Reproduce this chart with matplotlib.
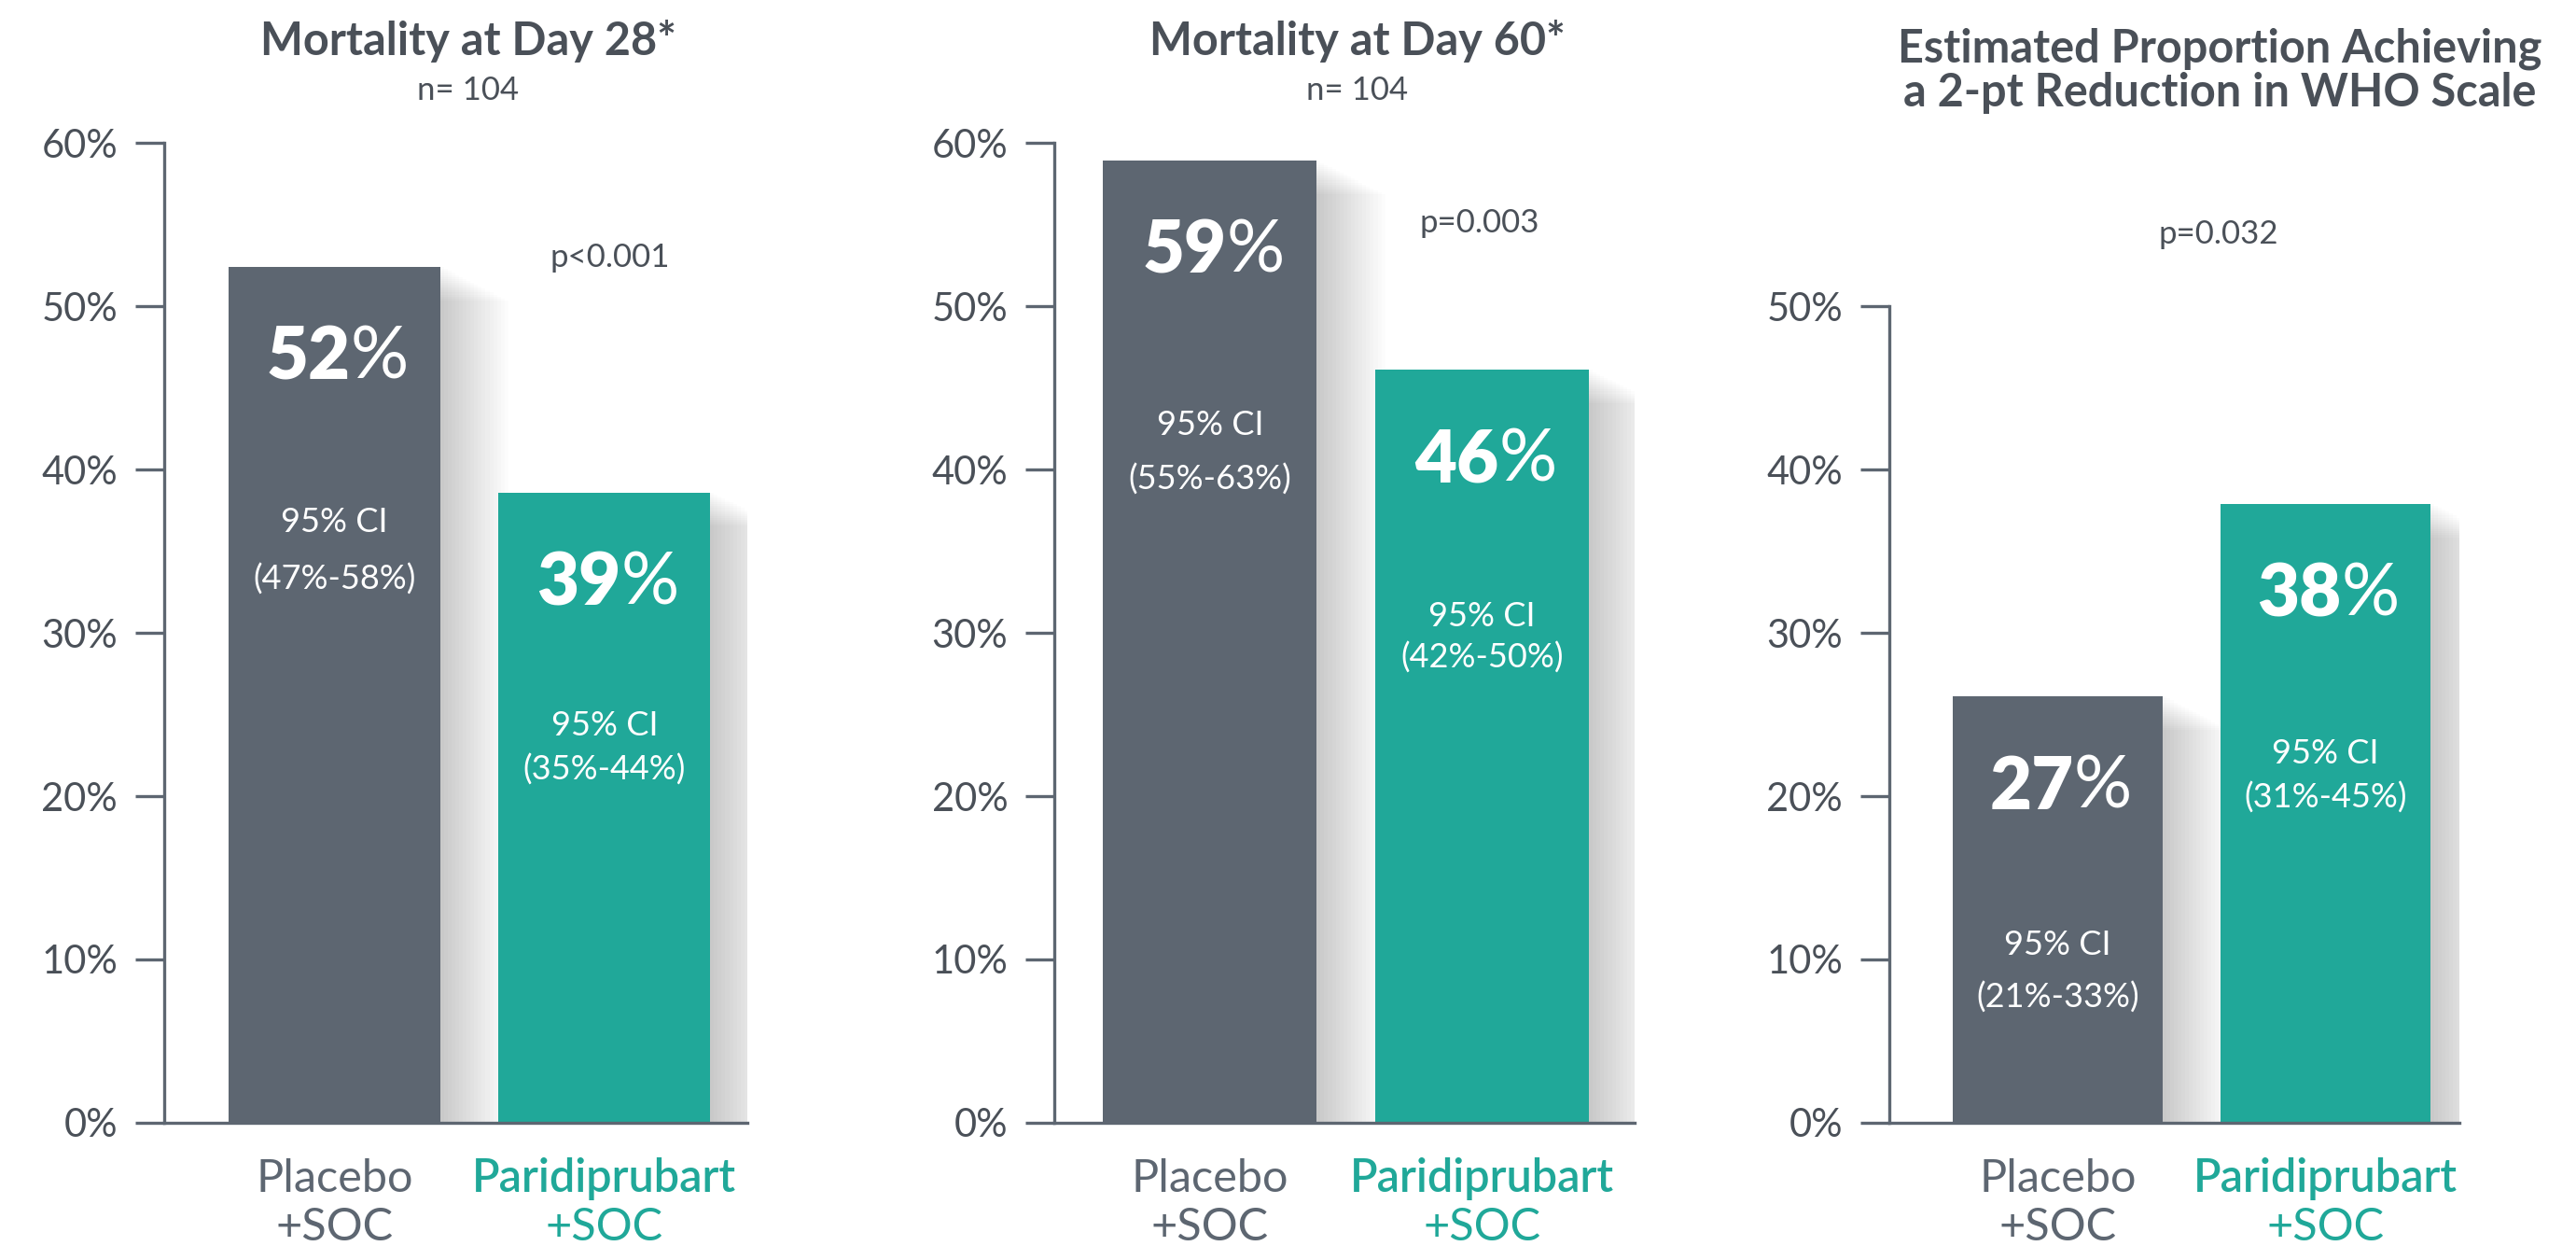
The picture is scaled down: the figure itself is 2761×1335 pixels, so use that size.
import matplotlib
matplotlib.use("Agg")
import matplotlib.pyplot as plt
import matplotlib.transforms as mtransforms
import numpy as np

plt.rcParams['font.family'] = ['Lato', 'DejaVu Sans']

# data
groups = ["Placebo", "Paridiprubart"]
titles = ["Mortality at Day 28*", "Mortality at Day 60*",
          "Estimated Proportion Achieving\na 2-pt Reduction in WHO Scale"]
subtitles = ["n= 104", "n= 104", ""]
values = [[52.4, 38.6], [58.9, 46.1], [26.1, 37.9]]
shown_pct = [["52", "39"], ["59", "46"], ["27", "38"]]
ci_text = [["(47%-58%)", "(35%-44%)"], ["(55%-63%)", "(42%-50%)"], ["(21%-33%)", "(31%-45%)"]]
p_values = ["p<0.001", "p=0.003", "p=0.032"]
y_max = [60, 60, 50]

# layout of annotations (y in data units)
ci_label_y = [[36.8, 24.3], [42.7, 31.0], [10.9, 22.6]]
ci_range_y = [[33.3, 21.6], [39.4, 28.5], [7.7, 19.9]]
p_pos = [(1.02, 53.0), (0.99, 55.1), (0.60, 54.4)]
axes_left = [100, 642, 1150]
axes_right = [455, 995, 1497]
xlims = [(-0.63, 1.53), (-0.57, 1.56), (-0.63, 1.50)]
title_x = [285, 826, 1351]

GRAY = "#5D6671"
TEAL = "#20A899"
TEXT = "#4A5058"
colors = [GRAY, TEAL]
LIGHT = "normal"

W, H = 1568, 758
fig = plt.figure(figsize=(27.61, 13.35), dpi=100)
fig.patch.set_facecolor("white")

bw = 0.784
for i in range(3):
    ax = fig.add_axes([axes_left[i] / W, 1 - 683 / H,
                       (axes_right[i] - axes_left[i]) / W, 596 / H])
    x = np.arange(len(groups))

    # soft shadow to the right of each bar, fading out at the top too
    for k in range(18):
        off = 0.014 * (k + 1)
        h = [v - 0.12 * k for v in values[i]]
        ax.bar(x + off, h, width=bw, color="black", alpha=0.010,
               zorder=1, linewidth=0)
    ax.bar(x, values[i], width=bw, color=colors, zorder=3, linewidth=0)

    ax.set_xlim(*xlims[i])
    ax.set_ylim(0, 60)
    ax.set_yticks(np.arange(0, y_max[i] + 1, 10))
    ax.set_yticklabels([f"{t}%" for t in range(0, y_max[i] + 1, 10)])
    ax.set_xticks([])
    for s in ["top", "right"]:
        ax.spines[s].set_visible(False)
    ax.spines["left"].set_bounds(0, y_max[i])
    for s in ["left", "bottom"]:
        ax.spines[s].set_color(GRAY)
        ax.spines[s].set_linewidth(2.4)
        ax.spines[s].set_zorder(4)
    ax.tick_params(axis="y", length=22, width=2.4, color=GRAY, pad=14,
                   labelsize=30, labelcolor=TEXT)
    for lab in ax.get_yticklabels():
        lab.set_fontweight(LIGHT)

    for j in range(2):
        v = values[i][j]
        ax.text(x[j] + 0.06, v - 5.6, shown_pct[i][j], ha="right", va="center",
                fontsize=56, fontweight="heavy", color="white", zorder=5)
        ax.text(x[j] + 0.06, v - 5.6, "%", ha="left", va="center",
                fontsize=56, fontweight=LIGHT, color="white", zorder=5)
        ax.text(x[j], ci_label_y[i][j], "95% CI", ha="center", va="center",
                fontsize=26, fontweight=LIGHT, color="white", zorder=5)
        ax.text(x[j], ci_range_y[i][j], ci_text[i][j], ha="center", va="center",
                fontsize=26, fontweight=LIGHT, color="white", zorder=5)

    trans = mtransforms.blended_transform_factory(ax.transData, ax.transAxes)
    ax.text(x[0], -0.057, groups[0], transform=trans, ha="center", va="center",
            fontsize=35, fontweight=LIGHT, color=GRAY)
    ax.text(x[0], -0.107, "+SOC", transform=trans, ha="center", va="center",
            fontsize=35, fontweight=LIGHT, color=GRAY)
    ax.text(x[1], -0.057, groups[1], transform=trans, ha="center", va="center",
            fontsize=35, fontweight="semibold", color=TEAL)
    ax.text(x[1], -0.107, "+SOC", transform=trans, ha="center", va="center",
            fontsize=35, fontweight=LIGHT, color=TEAL)

    ax.text(p_pos[i][0], p_pos[i][1], p_values[i], ha="center", va="center",
            fontsize=25, fontweight=LIGHT, color=TEXT, clip_on=False)

    if subtitles[i]:
        fig.text(title_x[i] / W, 1 - 25 / H, titles[i], ha="center", va="center",
                 fontsize=35, fontweight="bold", color=TEXT)
        fig.text(title_x[i] / W, 1 - 55 / H, subtitles[i], ha="center", va="center",
                 fontsize=25, fontweight=LIGHT, color=TEXT)
    else:
        fig.text(title_x[i] / W, 1 - 43 / H, titles[i], ha="center", va="center",
                 fontsize=35, fontweight="bold", color=TEXT, linespacing=1.05)

fig.savefig("out.png", dpi=100, facecolor="white")
